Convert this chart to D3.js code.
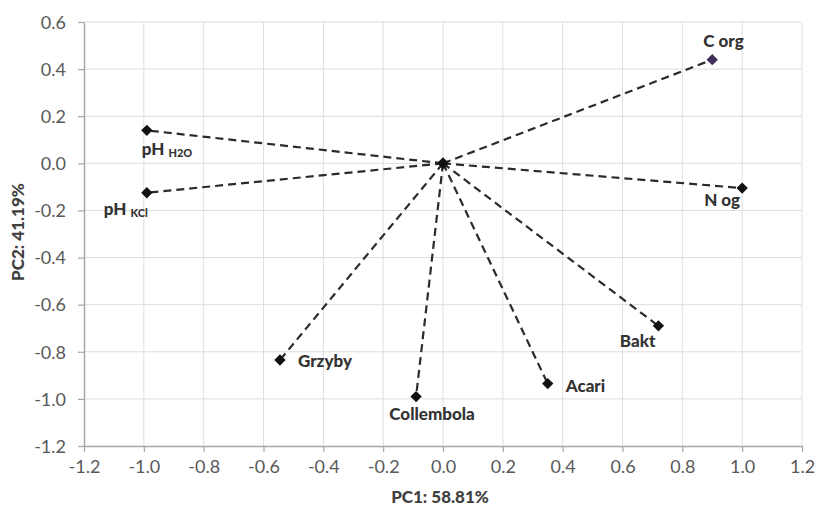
<!DOCTYPE html>
<html><head><meta charset="utf-8">
<script src="https://cdn.jsdelivr.net/npm/d3@7"></script>
<style>body{margin:0;background:#fff}svg{display:block}</style>
</head><body>
<svg id="c" width="818" height="509"></svg>
<script>
// Data
const names = ["C org","N og","Bakt","Acari","Collembola","Grzyby","pH KCl","pH H2O"];
const pc1 = [0.90, 1.00, 0.72, 0.35, -0.09, -0.545, -0.99, -0.99];
const pc2 = [0.44, -0.105, -0.69, -0.935, -0.99, -0.835, -0.125, 0.14];
const xTicks = [-1.2,-1.0,-0.8,-0.6,-0.4,-0.2,0.0,0.2,0.4,0.6,0.8,1.0,1.2];
const yTicks = [-1.2,-1.0,-0.8,-0.6,-0.4,-0.2,0.0,0.2,0.4,0.6];
const xTitle = "PC1: 58.81%", yTitle = "PC2: 41.19%";

// layout (label offsets in px, not data)
const labelPos = {
  "C org":[-9,-13,"start"], "N og":[-2,18,"end"], "Bakt":[-3,21,"end"],
  "Acari":[18,8,"start"], "Collembola":[16,23,"middle"], "Grzyby":[18,7,"start"],
  "pH KCl":[-43,22,"start"], "pH H2O":[-5,25,"start"]
};
const svg = d3.select("#c");
const L=84, R=802, T=22, B=446;
const x = d3.scaleLinear().domain([-1.2,1.2]).range([L,R]);
const y = d3.scaleLinear().domain([-1.2,0.6]).range([B,T]);
const font = "Lato, 'Open Sans', sans-serif";

// grid
svg.append("g").selectAll("line").data(xTicks.slice(1)).join("line")
  .attr("x1",d=>x(d)).attr("x2",d=>x(d)).attr("y1",T).attr("y2",B)
  .attr("stroke","#dedede").attr("stroke-width",1);
svg.append("g").selectAll("line").data(yTicks.slice(1)).join("line")
  .attr("x1",L).attr("x2",R).attr("y1",d=>y(d)).attr("y2",d=>y(d))
  .attr("stroke","#dedede").attr("stroke-width",1);

// axes
const fmt = d3.format(".1f");
const gx = svg.append("g").attr("transform",`translate(0,${B})`)
  .call(d3.axisBottom(x).tickValues(xTicks).tickFormat(d=>fmt(d).replace("−","-")).tickSize(6).tickSizeOuter(0).tickPadding(8));
const gy = svg.append("g").attr("transform",`translate(${L},0)`)
  .call(d3.axisLeft(y).tickValues(yTicks).tickFormat(d=>fmt(d).replace("−","-")).tickSize(6).tickSizeOuter(0).tickPadding(12));
[gx,gy].forEach(g=>{
  g.select(".domain").attr("stroke","#a6a6a6").attr("stroke-width",1.5);
  g.selectAll(".tick line").attr("stroke","#a6a6a6").attr("stroke-width",1.2);
  g.selectAll(".tick text").attr("fill","#595959").style("font-family",font).style("font-size","18px");
});
gy.selectAll(".tick text").attr("dy","0.35em");

// titles
svg.append("text").attr("x",(L+R)/2-3).attr("y",503).attr("text-anchor","middle")
  .style("font-family",font).style("font-size","17px").style("font-weight","900").attr("fill","#404040").text(xTitle);
svg.append("text").attr("transform",`translate(24,${(T+B)/2-2}) rotate(-90)`).attr("text-anchor","middle")
  .style("font-family",font).style("font-size","17px").style("font-weight","900").attr("fill","#404040").text(yTitle);

// dashed lines
const pts = names.map((n,i)=>({n, x:pc1[i], y:pc2[i]}));
svg.append("g").selectAll("line").data(pts).join("line")
  .attr("x1",x(0)).attr("y1",y(0)).attr("x2",d=>x(d.x)).attr("y2",d=>y(d.y))
  .attr("stroke","#2b2b2b").attr("stroke-width",2.2).attr("stroke-dasharray","8,5");

// markers
svg.append("g").selectAll("path").data(pts).join("path")
  .attr("d", d3.symbol().type(d3.symbolSquare).size(64))
  .attr("transform",d=>`translate(${x(d.x)},${y(d.y)}) rotate(45)`)
  .attr("fill",d=>d.n==="C org"?"#3f2f5c":"#111");
svg.append("path").attr("d", d3.symbol().type(d3.symbolSquare).size(72))
  .attr("transform",`translate(${x(0)},${y(0)}) rotate(45)`).attr("fill","#111");

// labels
const lab = svg.append("g").style("font-family",font).style("font-weight","900").attr("fill","#333");
pts.forEach(d=>{
  const [dx,dy,anc] = labelPos[d.n];
  const t = lab.append("text").attr("x",x(d.x)+dx).attr("y",y(d.y)+dy).attr("text-anchor",anc).style("font-size","17px");
  if (d.n.startsWith("pH ")) {
    t.append("tspan").text("pH ");
    t.append("tspan").style("font-size","11px").attr("dy",2).text(d.n.slice(3));
  } else t.text(d.n);
});
</script>
</body></html>
